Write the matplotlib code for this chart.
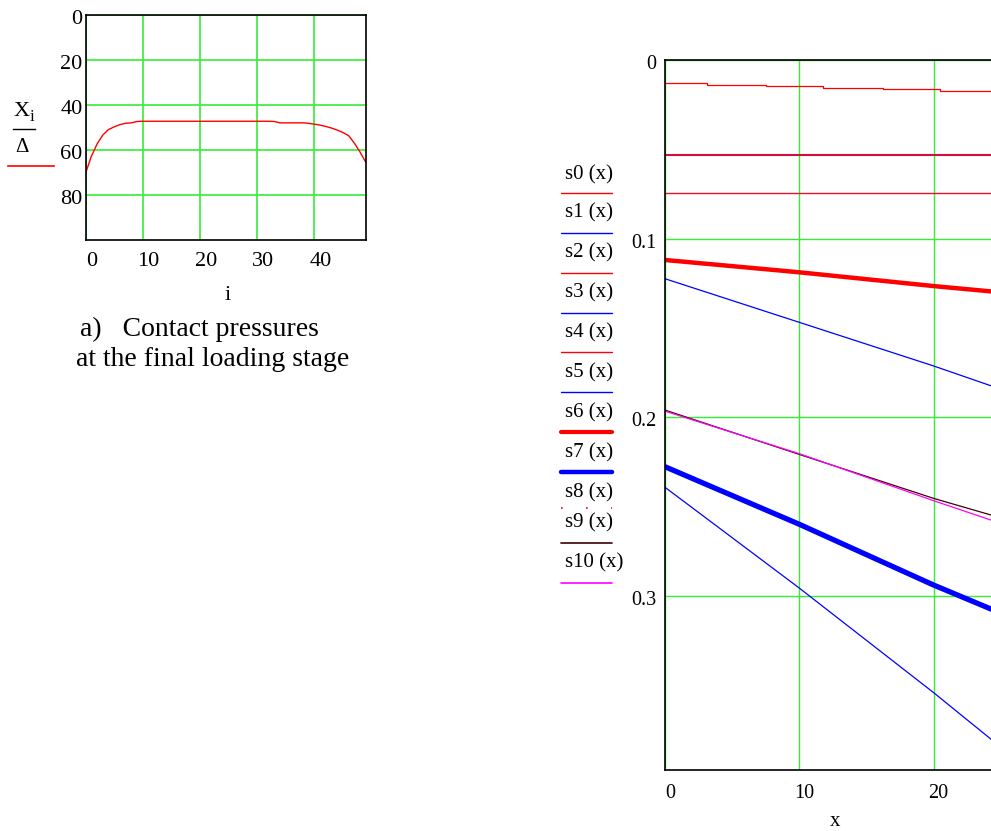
import matplotlib
matplotlib.use("Agg")
import matplotlib.pyplot as plt
from matplotlib.transforms import ScaledTranslation
from matplotlib.lines import Line2D

plt.rcParams['font.family'] = ['Liberation Serif', 'DejaVu Serif']

# ---- data: left chart (contact pressures X_i / Delta) ----
i_idx = list(range(50))
x_over_delta = [70.5, 63, 57.5, 53.5, 51, 49.8, 48.8, 48.2, 48, 47.4,
                47.3, 47.3, 47.3, 47.3, 47.3, 47.3, 47.3, 47.3, 47.3, 47.3,
                47.3, 47.3, 47.3, 47.3, 47.3, 47.3, 47.3, 47.3, 47.3, 47.3,
                47.3, 47.3, 47.3, 47.4, 48, 48, 48, 48, 48, 48.2,
                48.6, 49, 49.6, 50.3, 51.2, 52.3, 53.7, 57, 61, 65.5]

# ---- data: right chart s0..s10 ----
s0_x = [0, 3.1, 7.5, 11.8, 16.2, 20.5, 24.9, 29.3]
s0_y = [0.01306, 0.0138, 0.01474, 0.01548, 0.01623, 0.01716, 0.0179, 0.0187]
xs = [0, 10, 20, 25]
s2_y = [0.0532, 0.0532, 0.0532, 0.0532]
s4_y = [0.0744, 0.0744, 0.0744, 0.0744]
s5_y = [0.1224, 0.1468, 0.1712, 0.1842]
s6_y = [0.1119, 0.1188, 0.1265, 0.1300]
s7_y = [0.2276, 0.2598, 0.2938, 0.3095]
s3_y = [0.2391, 0.2955, 0.3540, 0.3845]
s9_y = [0.1959, 0.2207, 0.2453, 0.2562]
s10_y = [0.1965, 0.2203, 0.2466, 0.2593]

legend_names = ['s0 (x)', 's1 (x)', 's2 (x)', 's3 (x)', 's4 (x)', 's5 (x)',
                's6 (x)', 's7 (x)', 's8 (x)', 's9 (x)', 's10 (x)']

W, H = 991, 831
fig = plt.figure(figsize=(W / 100, H / 100), dpi=100)
green = '#33ee33'

def px(x, y):
    return x / W, 1 - y / H

def shift(labels, dx, dy):
    for lab in labels:
        lab.set_transform(lab.get_transform() + ScaledTranslation(dx / 100, -dy / 100, fig.dpi_scale_trans))

# left chart
ax1 = fig.add_axes([85.5 / W, 1 - 240 / H, 280.3 / W, 225.3 / H])
ax1.plot(i_idx, x_over_delta, color='red', lw=1.0)
ax1.set_xlim(0, 49)
ax1.set_ylim(100, 0)
ax1.set_xticks([0, 10, 20, 30, 40])
ax1.set_yticks([0, 20, 40, 60, 80])
ax1.grid(True, color=green, lw=1.2)
ax1.tick_params(length=0, labelsize=16)
ax1.tick_params(axis='x', pad=9)
ax1.tick_params(axis='y', pad=2)
for sp in ax1.spines.values():
    sp.set_linewidth(1.2)
shift(ax1.get_xticklabels(), 6, 0)
shift(ax1.get_yticklabels(), 0, 2)

fig.text(*px(228, 295), 'i', fontsize=16, ha='center', va='center')
fig.text(*px(14, 111), 'X', fontsize=16, ha='left', va='center')
fig.text(*px(30, 117), 'i', fontsize=12, ha='left', va='center')
fig.add_artist(Line2D([13 / W, 35 / W], [1 - 129 / H, 1 - 129 / H], color='black', lw=1))
fig.text(*px(21.5, 147), 'Δ', fontsize=15, ha='center', va='center')
fig.add_artist(Line2D([8 / W, 54 / W], [1 - 166 / H, 1 - 166 / H], color='red', lw=1.2))

fig.text(*px(80, 329), 'a)   Contact pressures', fontsize=20, ha='left', va='center')
fig.text(*px(76, 359), 'at the final loading stage', fontsize=20, ha='left', va='center')

# right chart (cut at the right edge like the original)
ax2 = fig.add_axes([665 / W, 1 - 770 / H, 402.9 / W, 710 / H])
ax2.plot(s0_x, s0_y, color='red', lw=0.9, drawstyle='steps-post')
ax2.plot(xs, s2_y, color='#d0103a', lw=1.5)
ax2.plot(xs, s4_y, color='#e8102a', lw=1.0)
ax2.plot(xs, s6_y, color='red', lw=3.2)
ax2.plot(xs, s5_y, color='blue', lw=0.9)
ax2.plot(xs, s9_y, color='#400000', lw=0.9)
ax2.plot(xs, s10_y, color='magenta', lw=0.9)
ax2.plot(xs, s7_y, color='blue', lw=3.8)
ax2.plot(xs, s3_y, color='blue', lw=0.9)
ax2.set_xlim(0, 30)
ax2.set_ylim(0.3973, 0)
ax2.set_xticks([0, 10, 20])
ax2.set_xticklabels(['0', '10', '20'])
ax2.set_yticks([0, 0.1, 0.2, 0.3])
ax2.set_yticklabels(['0', '0.1', '0.2', '0.3'])
ax2.grid(True, color=green, lw=1.0)
ax2.tick_params(length=0, labelsize=14.5)
ax2.tick_params(axis='x', pad=10)
ax2.tick_params(axis='y', pad=6)
for sp in ax2.spines.values():
    sp.set_linewidth(1.2)
shift(ax2.get_xticklabels(), 5, 0)
shift(ax2.get_yticklabels(), 0, 2)
fig.text(*px(835, 822), 'x', fontsize=15, ha='center', va='center')

# manual legend left of the right chart
leg_text_y = [175, 213, 253, 293, 333, 373, 413, 453, 493, 523, 563]
leg_line_y = [193, 233, 273, 313, 352, 392, 432, 472, 508, 543, 583]
leg_color = ['red', 'blue', 'red', 'blue', 'red', 'blue', 'red', 'blue', 'red', '#400000', 'magenta']
leg_lw = [1, 1, 1, 1, 1, 1, 3, 3.2, 1.2, 1.2, 1.2]
for k, name in enumerate(legend_names):
    fig.text(*px(565, leg_text_y[k]), name, fontsize=15, ha='left', va='center')
    yy = 1 - leg_line_y[k] / H
    ln = Line2D([561 / W, 612 / W], [yy, yy], color=leg_color[k], lw=leg_lw[k],
                solid_capstyle='round')
    if k == 8:
        ln.set_linestyle((0, (1, 14)))
    fig.add_artist(ln)

fig.savefig('out.png', dpi=100)
